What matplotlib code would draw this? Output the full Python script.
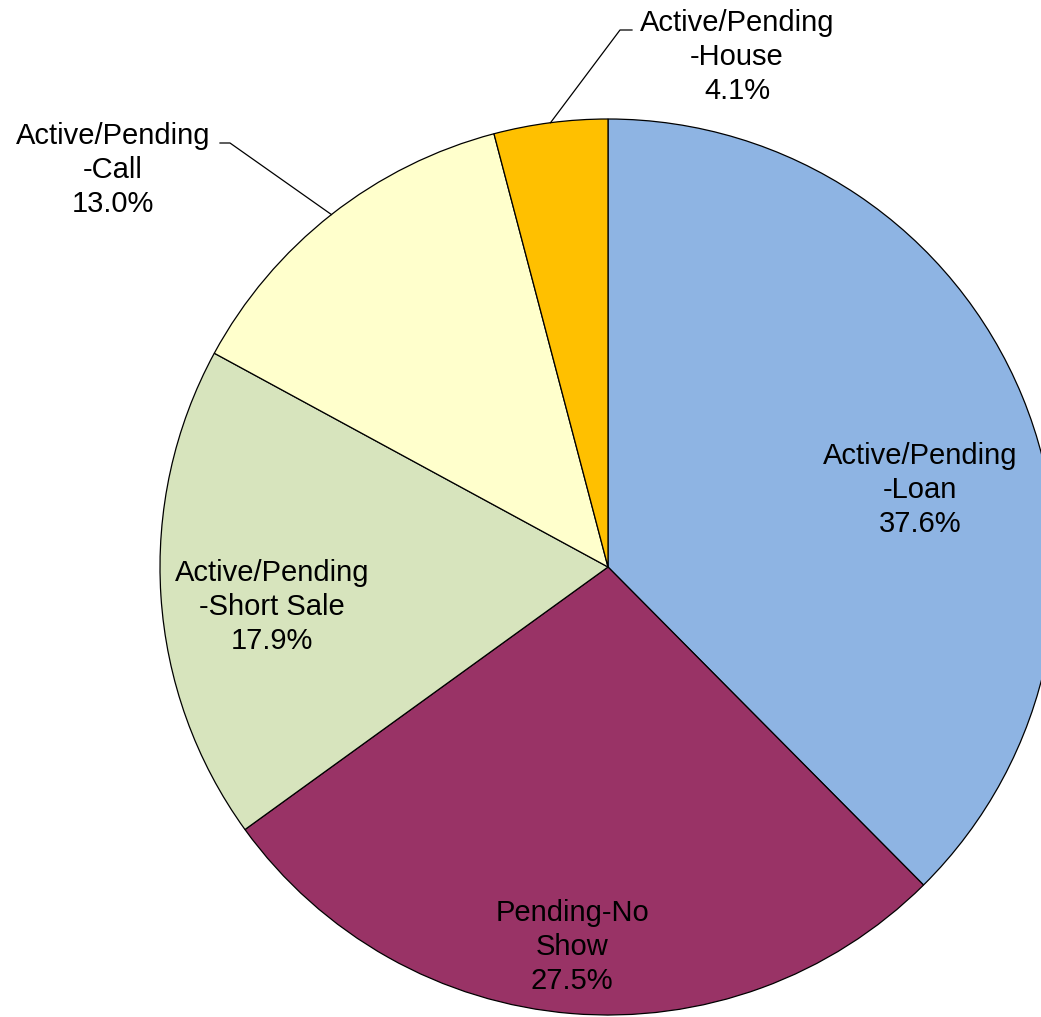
import numpy as np
import matplotlib.pyplot as plt

plt.rcParams['font.family'] = ['Liberation Sans', 'DejaVu Sans']

labels = ["Active/Pending\n-Loan", "Pending-No\nShow", "Active/Pending\n-Short Sale",
          "Active/Pending\n-Call", "Active/Pending\n-House"]
values = [37.6, 27.5, 17.9, 13.0, 4.1]
colors = ["#8EB4E3", "#993366", "#D7E4BD", "#FFFFCC", "#FFC000"]

W, H = 1041, 1017
fig = plt.figure(figsize=(W / 100, H / 100), dpi=100)
ax = fig.add_axes([0, 0, 1, 1])

cx, cy, r = 608, H - 567, 448
wedges, _ = ax.pie(values, colors=colors, startangle=90, counterclock=False,
                   center=(cx, cy), radius=r,
                   wedgeprops=dict(edgecolor="black", linewidth=0.9))
ax.set_xlim(0, W)
ax.set_ylim(0, H)
ax.set_aspect('equal')
ax.axis('off')

fs = 21
# label text centres (pixels from top-left)
label_pos = [(920, 490), (572, 947), (272, 607), (113, 170), (737, 57)]
# leader line elbows for outside labels
leader = {3: [(220, 143), (230, 143)], 4: [(632, 30), (620, 30)]}

for i, w in enumerate(wedges):
    txt = f"{labels[i]}\n{values[i]:.1f}%"
    x, y = label_pos[i]
    ax.text(x, H - y, txt, ha="center", va="center", fontsize=fs, linespacing=1.28)
    if i in leader:
        mid = np.deg2rad((w.theta1 + w.theta2) / 2)
        px, py = cx + r * np.cos(mid), cy + r * np.sin(mid)
        pts = [(a, H - b) for a, b in leader[i]] + [(px, py)]
        ax.plot([p[0] for p in pts], [p[1] for p in pts], color="black", lw=0.9)

fig.savefig("out.png", dpi=100)
